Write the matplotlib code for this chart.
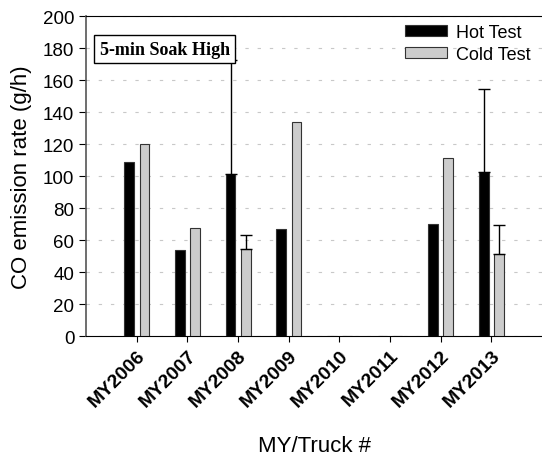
import numpy as np
import matplotlib.pyplot as plt

# data
years = ["MY2006", "MY2007", "MY2008", "MY2009", "MY2010", "MY2011", "MY2012", "MY2013"]
hot = [109, 54, 101.5, 67, 0, 0, 70, 102.5]
cold = [120, 67.5, 54.5, 134, 0, 0, 111, 51.5]
hot_err = [0, 0, 71, 0, 0, 0, 0, 52]
cold_err = [0, 0, 8.5, 0, 0, 0, 0, 18]

plt.rcParams['font.family'] = ['Liberation Sans', 'DejaVu Sans']

fig = plt.figure(figsize=(5.42, 4.6), dpi=100)
ax = fig.add_axes([0.159, 0.267, 0.841, 0.696])

x = np.arange(len(years))
w = 0.19
off = 0.15

ax.bar(x - off, hot, w, color="black", edgecolor="#333333", linewidth=0.8,
       label="Hot Test", zorder=3)
ax.bar(x + off, cold, w, color="#cccccc", edgecolor="#333333", linewidth=0.8,
       label="Cold Test", zorder=3)

# upper-only error bars
he = np.array(hot_err)
ce = np.array(cold_err)
m = he > 0
ax.errorbar(x[m] - off, np.array(hot)[m], yerr=[np.zeros(m.sum()), he[m]],
            fmt="none", ecolor="black", elinewidth=1, capsize=4, capthick=1, zorder=4)
m = ce > 0
ax.errorbar(x[m] + off, np.array(cold)[m], yerr=[np.zeros(m.sum()), ce[m]],
            fmt="none", ecolor="black", elinewidth=1, capsize=4, capthick=1, zorder=4)

ax.set_xlim(-1, 8)
ax.set_ylim(0, 200)
ax.set_yticks(np.arange(0, 201, 20))
ax.set_xticks(x)
ax.set_xticklabels(years, rotation=45, ha="right", rotation_mode="anchor",
                   fontweight="bold", fontsize=14)
ax.tick_params(axis="y", labelsize=13.5, length=5, direction="out")
ax.tick_params(axis="x", length=4, direction="out")

ax.yaxis.grid(True, linestyle=(0, (3, 8)), color="#c8c8c8", linewidth=0.8, zorder=0)
ax.set_axisbelow(True)

ax.spines["right"].set_visible(False)
ax.spines["left"].set_color("#555555")
ax.spines["left"].set_linewidth(1.2)

ax.set_ylabel("CO emission rate (g/h)", fontsize=16, labelpad=8)
ax.set_xlabel("MY/Truck #", fontsize=16, labelpad=18)

ax.text(0.03, 0.896, "5-min Soak High", transform=ax.transAxes,
        family=["Liberation Serif"], fontweight="bold", fontsize=13,
        va="center", ha="left", zorder=6,
        bbox=dict(boxstyle="square,pad=0.3", facecolor="white",
                  edgecolor="black", linewidth=1))

leg = ax.legend(loc="upper left", bbox_to_anchor=(0.70, 0.975), frameon=False,
                fontsize=13, handlelength=2.3, handleheight=0.55,
                labelspacing=0.25, handletextpad=0.5,
                borderpad=0, borderaxespad=0)

fig.savefig("out.png", dpi=100)
